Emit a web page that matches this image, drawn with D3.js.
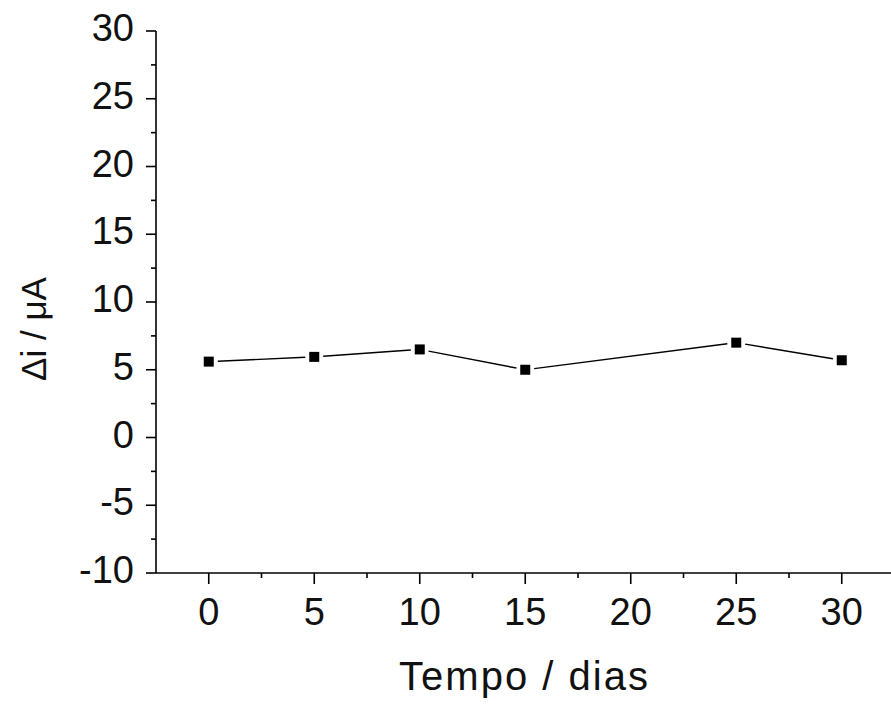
<!DOCTYPE html>
<html>
<head>
<meta charset="utf-8">
<script src="https://cdn.jsdelivr.net/npm/d3@7"></script>
<style>
  html, body { margin: 0; padding: 0; background: #fff; }
  svg { display: block; }
  text { font-family: "Liberation Sans", Arial, sans-serif; fill: #111; }
</style>
</head>
<body>
<svg id="chart" width="891" height="711"></svg>
<script>
// Data
const days = [0, 5, 10, 15, 25, 30];
const deltaI = [5.6, 5.95, 6.5, 5.0, 7.0, 5.7];
const xTicks = [0, 5, 10, 15, 20, 25, 30];
const yTicks = [-10, -5, 0, 5, 10, 15, 20, 25, 30];
const xLabel = "Tempo / dias";
const yLabel = "\u0394i / \u03bcA";

const svg = d3.select("#chart");
const x = d3.scaleLinear().domain([-2.5, 32.5]).range([156, 894.5]);
const y = d3.scaleLinear().domain([-10, 30]).range([573, 31]);

const axisColor = "#000";
const fontSize = 38;

// minor ticks
const xMinor = d3.range(-2.5, 32.6, 2.5).filter(v => !xTicks.includes(v) && v > -2.5);
const yMinor = d3.range(-7.5, 30, 5);

// X axis
const gx = svg.append("g").attr("transform", `translate(0,${y(-10)})`);
gx.append("line").attr("x1", x(-2.5)).attr("x2", 891).attr("y1", 0).attr("y2", 0)
  .attr("stroke", axisColor).attr("stroke-width", 1.6);
gx.selectAll("line.maj").data(xTicks).enter().append("line")
  .attr("x1", d => x(d)).attr("x2", d => x(d)).attr("y1", 0).attr("y2", 11)
  .attr("stroke", axisColor).attr("stroke-width", 1.6);
gx.selectAll("line.min").data(xMinor).enter().append("line")
  .attr("x1", d => x(d)).attr("x2", d => x(d)).attr("y1", 0).attr("y2", 5)
  .attr("stroke", axisColor).attr("stroke-width", 1.6);
gx.selectAll("text").data(xTicks).enter().append("text")
  .attr("x", d => x(d)).attr("y", 52)
  .attr("text-anchor", "middle").attr("font-size", fontSize)
  .text(d => d);

// Y axis
const gy = svg.append("g").attr("transform", `translate(${x(-2.5)},0)`);
gy.append("line").attr("x1", 0).attr("x2", 0).attr("y1", y(30)).attr("y2", y(-10))
  .attr("stroke", axisColor).attr("stroke-width", 1.6);
gy.selectAll("line.maj").data(yTicks).enter().append("line")
  .attr("x1", -10).attr("x2", 0).attr("y1", d => y(d)).attr("y2", d => y(d))
  .attr("stroke", axisColor).attr("stroke-width", 1.6);
gy.selectAll("line.min").data(yMinor).enter().append("line")
  .attr("x1", -5).attr("x2", 0).attr("y1", d => y(d)).attr("y2", d => y(d))
  .attr("stroke", axisColor).attr("stroke-width", 1.6);
gy.selectAll("text").data(yTicks).enter().append("text")
  .attr("x", -22).attr("y", d => y(d) + 10)
  .attr("text-anchor", "end").attr("font-size", fontSize)
  .text(d => d);

// Axis titles
svg.append("text")
  .attr("x", (156 + 891) / 2 + 1).attr("y", 690)
  .attr("text-anchor", "middle").attr("font-size", 40)
  .attr("letter-spacing", 2)
  .text(xLabel);
svg.append("text")
  .attr("transform", `translate(46,329) rotate(-90)`)
  .attr("text-anchor", "middle").attr("font-size", 35)
  .text(yLabel);

// Data line segments with small gaps near markers
const pts = days.map((d, i) => [x(d), y(deltaI[i])]);
const gap = 9;
const segs = [];
for (let i = 0; i < pts.length - 1; i++) {
  const [x1, y1] = pts[i], [x2, y2] = pts[i + 1];
  const len = Math.hypot(x2 - x1, y2 - y1);
  const ux = (x2 - x1) / len, uy = (y2 - y1) / len;
  segs.push([x1 + ux * gap, y1 + uy * gap, x2 - ux * gap, y2 - uy * gap]);
}
svg.append("g").selectAll("line").data(segs).enter().append("line")
  .attr("x1", d => d[0]).attr("y1", d => d[1])
  .attr("x2", d => d[2]).attr("y2", d => d[3])
  .attr("stroke", "#000").attr("stroke-width", 1.4);

// Markers
const ms = 10;
svg.append("g").selectAll("rect").data(days).enter().append("rect")
  .attr("x", (d) => x(d) - ms / 2)
  .attr("y", (d, i) => y(deltaI[i]) - ms / 2)
  .attr("width", ms).attr("height", ms)
  .attr("fill", "#000");
</script>
</body>
</html>
